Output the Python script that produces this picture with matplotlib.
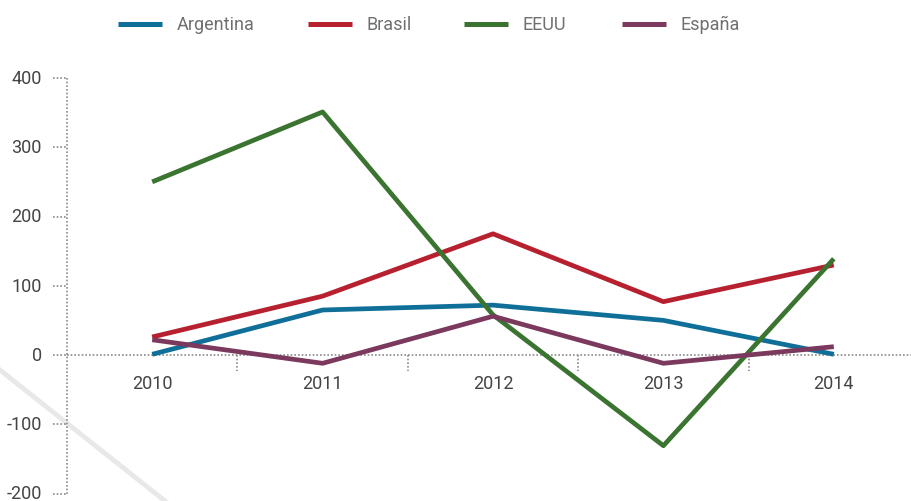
import matplotlib
matplotlib.use("Agg")
import matplotlib.pyplot as plt
from matplotlib.lines import Line2D
import matplotlib.transforms as mtransforms

plt.rcParams['font.family'] = ['Roboto', 'DejaVu Sans']

years = ["2010", "2011", "2012", "2013", "2014"]
series_names = ["Argentina", "Brasil", "EEUU", "España"]
argentina = [1, 65, 72, 50, 1]
brasil = [26, 85, 175, 77, 130]
eeuu = [250, 351, 58, -131, 139]
espana = [22, -12, 56, -12, 12]
colors = ["#0f6f98", "#b7202f", "#3b7431", "#7b395d"]
y_ticks = [-200, -100, 0, 100, 200, 300, 400]

W, H = 912, 502
fig = plt.figure(figsize=(W / 100, H / 100), dpi=100)
ax = fig.add_axes([67 / W, 7.5 / H, (919 - 67) / W, (494.5 - 79) / H])
ax.patch.set_alpha(0)

# pale diagonal stroke in the lower left corner
fig.add_artist(Line2D([0, 165 / W], [1 - 371 / H, 0], color="#e8e8e8", lw=3.5,
                      transform=fig.transFigure, zorder=0))

x = list(range(len(years)))
for vals, name, c in zip([argentina, brasil, eeuu, espana], series_names, colors):
    ax.plot(x, vals, color=c, lw=3.4, label=name, solid_capstyle="butt", zorder=3)

ax.set_xlim(-0.5, len(years) - 0.5)
ax.set_ylim(-200, 400)

for s in ["top", "right", "bottom", "left"]:
    ax.spines[s].set_visible(False)
ax.set_xticks([])
ax.set_yticks([])

dot = dict(color="#8a8a8a", lw=1.2, ls=(0, (1, 1.2)), clip_on=False, zorder=2)

# vertical axis and zero line
ax.plot([0, 0], [0, 1], transform=ax.transAxes, **dot)
ax.axhline(0, **dot)

# y ticks and labels
ytrans = mtransforms.blended_transform_factory(ax.transAxes, ax.transData)
for v in y_ticks:
    ax.plot([-14 / 852, 0], [v, v], transform=ytrans, **dot)
    ax.annotate(str(v), xy=(0, v), xycoords=ytrans, xytext=(-18, 0),
                textcoords="offset points", ha="right", va="center",
                fontsize=13, color="#444444")

# category separators below the zero line
for i in range(len(years) - 1):
    ax.plot([i + 0.5, i + 0.5], [0, -23], **dot)

for i, yr in enumerate(years):
    ax.annotate(yr, xy=(i, 0), xytext=(0, -20), textcoords="offset points",
                ha="center", va="center", fontsize=13, color="#444444")

# legend row across the top
leg_x = [118, 308, 464, 622]
handles = ax.get_lines()[:len(series_names)]
for lx, h in zip(leg_x, handles):
    fig.add_artist(Line2D([lx / W, (lx + 44) / W], [1 - 25 / H] * 2,
                          color=h.get_color(), lw=3.6, solid_capstyle="butt",
                          transform=fig.transFigure))
    fig.text((lx + 59) / W, 1 - 25 / H, h.get_label(), ha="left", va="center",
             fontsize=13, color="#707070")

fig.savefig("out.png", dpi=100)
